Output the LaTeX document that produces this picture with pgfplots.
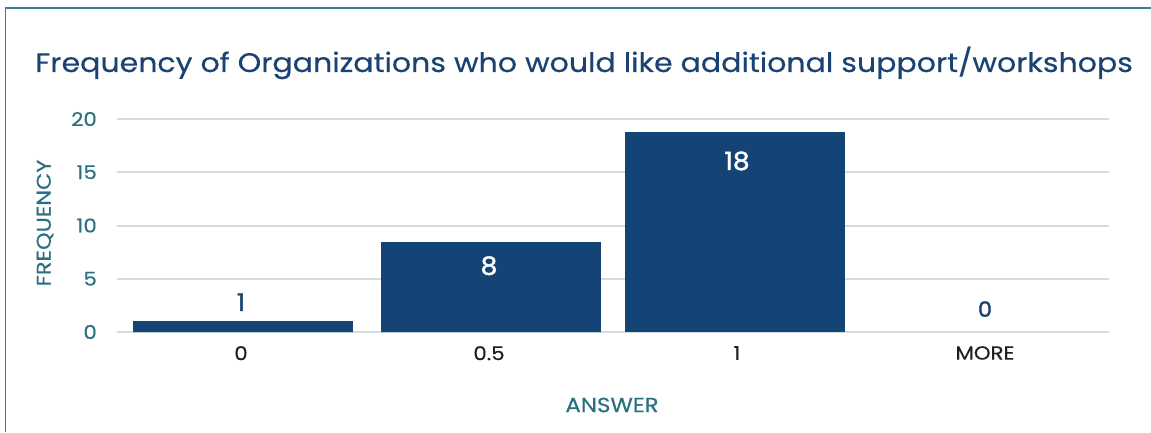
\documentclass[border=0pt]{standalone}
\usepackage{fontspec}
\setmainfont{Poppins}[FakeStretch=1.12, FakeBold=0.4]
\newfontfamily\lblfont{Poppins}[FakeStretch=1.06, FakeBold=1.6]
\usepackage{pgfplots}
\pgfplotsset{compat=1.18}
\definecolor{barc}{HTML}{144375}
\definecolor{tealc}{HTML}{2B7080}
\definecolor{gridc}{HTML}{CFDDE1}
\definecolor{framec}{HTML}{3F7E8C}
\definecolor{navy}{HTML}{1A4272}
\definecolor{tickc}{HTML}{231F20}
\begin{document}
\begin{tikzpicture}[x=1pt,y=1pt]
\useasboundingbox (0,0) rectangle (1151,432);
\draw[framec, line width=1.3pt] (5.5,0) -- (5.5,424) -- (1151,424);
\node[anchor=base west, text=navy, font=\fontsize{26.8}{30}\selectfont, inner sep=0] at (35,360) {Frequency of Organizations who would like additional support/workshops};
\node[rotate=90, text=tealc, font=\fontsize{20}{22}\selectfont, inner sep=0] at (45,209) {FREQUENCY};
\node[text=tealc, font=\fontsize{20.5}{22}\selectfont, inner sep=0] at (612,27) {ANSWER};
\begin{axis}[
  at={(117pt,100pt)}, anchor=south west,
  scale only axis, width=992pt, height=213pt,
  xmin=-0.5, xmax=3.5, ymin=0, ymax=20,
  axis line style={draw=none},
  major tick length=0pt,
  ymajorgrids, grid style={gridc, line width=2pt},
  ytick={0,5,10,15,20},
  xtick={0,1,2,3}, xticklabels={0,0.5,1,MORE},
  /pgf/number format/assume math mode=true,
  yticklabel style={text=tealc, font=\fontsize{19}{19}\selectfont, anchor=east, inner sep=0pt, xshift=-20pt},
  xticklabel style={text=tickc, font=\fontsize{19}{19}\selectfont, anchor=north, inner sep=0pt, yshift=-14pt},
  clip=false,
]
\addplot[ybar, bar width=0.887, fill=barc, draw=none, bar shift=2pt] coordinates {(0,1.03) (1,8.44)};
\addplot[ybar, bar width=0.887, fill=barc, draw=none, bar shift=-2pt] coordinates {(2,18.75)};
\addplot[draw=none, mark=none, nodes near coords, point meta=explicit symbolic,
  nodes near coords style={text=white, anchor=north, inner sep=0pt, yshift=-14pt, font=\lblfont\fontsize{25}{25}\selectfont}]
  coordinates {(1,8.44)[8]};
\addplot[draw=none, mark=none, nodes near coords, point meta=explicit symbolic,
  nodes near coords style={text=white, anchor=north, inner sep=0pt, yshift=-19pt, font=\lblfont\fontsize{25}{25}\selectfont}]
  coordinates {(2,18.75)[18]};
\addplot[draw=none, mark=none, nodes near coords, point meta=explicit symbolic,
  nodes near coords style={text=navy, anchor=south, inner sep=0pt, yshift=10pt, font=\lblfont\fontsize{24}{24}\selectfont}]
  coordinates {(0,1.03)[1]};
\addplot[draw=none, mark=none, nodes near coords, point meta=explicit symbolic,
  nodes near coords style={text=navy, anchor=south, inner sep=0pt, yshift=15pt, font=\lblfont\fontsize{21}{21}\selectfont}]
  coordinates {(3,0)[0]};
\end{axis}
\end{tikzpicture}
\end{document}
